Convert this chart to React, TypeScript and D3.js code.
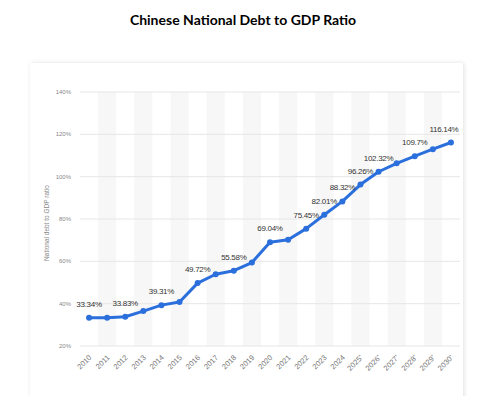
import React from 'react';
import * as d3 from 'd3';

const years = ['2010', '2011', '2012', '2013', '2014', '2015', '2016', '2017', '2018', '2019', '2020',
  '2021', '2022', '2023', '2024', '2025', '2026', '2027', '2028', '2029', '2030'];
const forecast = [false, false, false, false, false, false, false, false, false, false, false,
  false, false, false, false, true, true, true, true, true, true];
const debtRatio = [33.34, 33.3, 33.83, 36.5, 39.31, 40.8, 49.72, 53.9, 55.58, 59.4, 69.04,
  70.2, 75.45, 82.01, 88.32, 96.26, 102.32, 106.3, 109.7, 113.0, 116.14];
const labelled = ['2010', '2012', '2014', '2016', '2018', '2020', '2022', '2023', '2024', '2025', '2026', '2028', '2030'];
const yTicks = [20, 40, 60, 80, 100, 120, 140];

const W = 490;
const H = 396;
const left = 80, right = 460, top = 92, bottom = 346;

export default function App() {
  const x = d3.scaleBand<string>().domain(years).range([left, right]).padding(0);
  const y = d3.scaleLinear().domain([20, 140]).range([bottom, top]);
  const cx = (yr: string) => (x(yr) as number) + x.bandwidth() / 2;

  const line = d3.line<number>()
    .x((_, i) => cx(years[i]))
    .y(d => y(d))
    .curve(d3.curveLinear);

  return (
    <svg width={W} height={H} style={{ position: 'absolute', left: 0, top: 0, background: '#fff' }}>
      <defs>
        <filter id="shadow" x="-5%" y="-5%" width="110%" height="110%">
          <feDropShadow dx="1" dy="0" stdDeviation="2" floodColor="#000" floodOpacity="0.12" />
        </filter>
      </defs>
      <text x={243} y={25} textAnchor="middle" fontFamily="Lato, 'Open Sans', sans-serif"
        fontWeight="bold" fontSize={14} fill="#000">Chinese National Debt to GDP Ratio</text>

      <rect x={30} y={63} width={433} height={340} fill="#fff" filter="url(#shadow)" />

      {years.map((yr, i) => i % 2 === 1 ? (
        <rect key={'b' + yr} x={x(yr)} y={top} width={x.bandwidth()} height={bottom - top} fill="#f7f7f7" />
      ) : null)}

      {yTicks.map(t => (
        <g key={'g' + t}>
          <line x1={left} x2={right} y1={y(t)} y2={y(t)} stroke="#e6e6e6" strokeWidth={1} />
          <text x={71} y={y(t) + 2} textAnchor="end" fontFamily="'Liberation Sans', Arial, sans-serif"
            fontSize={6} fill="#888">{t}%</text>
        </g>
      ))}

      <text transform={`translate(49,${(top + bottom) / 2 + 4}) rotate(-90)`} textAnchor="middle"
        fontFamily="'Liberation Sans', Arial, sans-serif" fontSize={6.5} fill="#888">National debt to GDP ratio</text>

      {years.map((yr, i) => (
        <text key={'x' + yr} transform={`translate(${cx(yr) + 3},${bottom + 12}) rotate(-45)`} textAnchor="end"
          fontFamily="'Liberation Sans', Arial, sans-serif" fontSize={7.5} fill="#777">
          {yr}{forecast[i] ? <tspan fontSize={5} dy={-2}>*</tspan> : null}
        </text>
      ))}

      <path d={line(debtRatio) || ''} fill="none" stroke="#2b6fdc" strokeWidth={3} strokeLinejoin="round" />
      {debtRatio.map((v, i) => (
        <circle key={'p' + i} cx={cx(years[i])} cy={y(v)} r={3} fill="#2b6fdc" />
      ))}

      {debtRatio.map((v, i) => labelled.includes(years[i]) ? (
        <text key={'l' + i} x={cx(years[i]) - (i === years.length - 1 ? 7 : 0)} y={y(v) - 11}
          textAnchor="middle" fontFamily="'Liberation Sans', Arial, sans-serif" fontSize={8}
          letterSpacing={-0.3} fill="#333">{v}%</text>
      ) : null)}
    </svg>
  );
}
